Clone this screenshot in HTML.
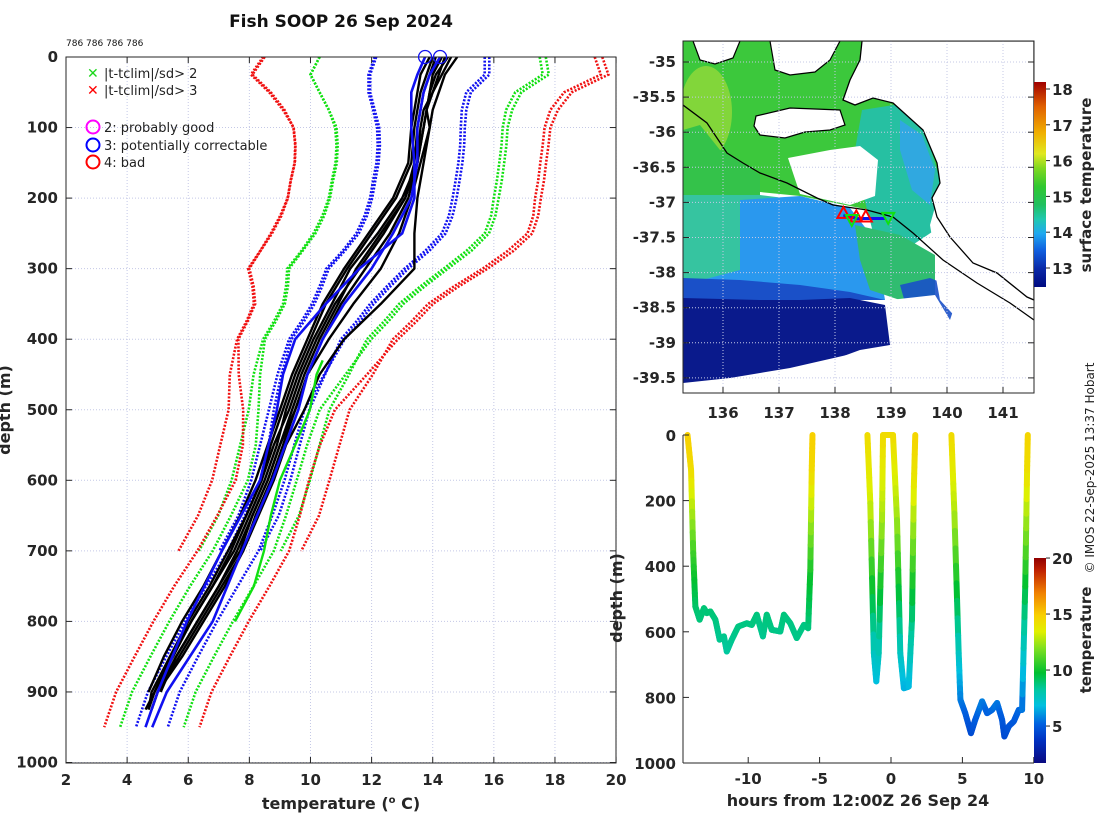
<!DOCTYPE html>
<html><head><meta charset="utf-8"><style>
html,body{margin:0;padding:0;background:#fff;}
svg{display:block;font-family:"DejaVu Sans","Liberation Sans",sans-serif;}
.tk{font-size:15px;font-weight:bold;fill:#262626;}
</style></head><body>
<svg id="chart" width="1100" height="820" viewBox="0 0 1100 820" xmlns="http://www.w3.org/2000/svg">
<defs>
<clipPath id="mapclip"><rect x="683" y="41" width="351" height="352"/></clipPath>
<clipPath id="leftclip"><rect x="66" y="57" width="550" height="706"/></clipPath>
<linearGradient id="sstbar" x1="0" y1="1" x2="0" y2="0">
<stop offset="0" stop-color="#000a80"/><stop offset="0.09" stop-color="#0a2aa8"/><stop offset="0.18" stop-color="#1060e0"/>
<stop offset="0.26" stop-color="#20a8f0"/><stop offset="0.33" stop-color="#20c8b0"/><stop offset="0.40" stop-color="#20c060"/>
<stop offset="0.49" stop-color="#30c830"/><stop offset="0.58" stop-color="#80d820"/><stop offset="0.65" stop-color="#e0e820"/>
<stop offset="0.75" stop-color="#f0b000"/><stop offset="0.88" stop-color="#e06000"/><stop offset="1" stop-color="#a00000"/>
</linearGradient>
<linearGradient id="tbar" x1="0" y1="1" x2="0" y2="0">
<stop offset="0" stop-color="#0a0a80"/><stop offset="0.11" stop-color="#0030c0"/><stop offset="0.19" stop-color="#0060e0"/>
<stop offset="0.28" stop-color="#00c0e0"/><stop offset="0.36" stop-color="#00c8a0"/><stop offset="0.44" stop-color="#00c030"/>
<stop offset="0.56" stop-color="#80e020"/><stop offset="0.64" stop-color="#e0f000"/><stop offset="0.72" stop-color="#f8d000"/>
<stop offset="0.83" stop-color="#f08000"/><stop offset="0.94" stop-color="#c02000"/><stop offset="1" stop-color="#900000"/>
</linearGradient>
</defs>

<text x="341" y="27" text-anchor="middle" style="font-size:17px;font-weight:bold;fill:#111">Fish SOOP 26 Sep 2024</text>
<text x="66" y="46" style="font-size:9px;fill:#111">786 786 786 786</text>

<g id="leftgrid"></g>
<g id="leftplot" clip-path="url(#leftclip)"></g>
<rect x="66" y="57" width="550" height="706" fill="none" stroke="#262626" stroke-width="1"/>
<g id="leftticks"></g>
<text x="341" y="809" text-anchor="middle" style="font-size:16px;font-weight:bold;fill:#262626">temperature (<tspan dy="-6" style="font-size:10px">o</tspan><tspan dy="6"> C)</tspan></text>
<text transform="translate(10,410) rotate(-90)" text-anchor="middle" style="font-size:16px;font-weight:bold;fill:#262626">depth (m)</text>

<g>
<text x="87" y="78" style="font-size:14px;fill:#1cd81c;font-weight:bold">✕</text>
<text x="104" y="78" style="font-size:13px;fill:#222">|t-tclim|/sd&gt; 2</text>
<text x="87" y="95" style="font-size:14px;fill:#f00;font-weight:bold">✕</text>
<text x="104" y="95" style="font-size:13px;fill:#222">|t-tclim|/sd&gt; 3</text>
<circle cx="93" cy="127" r="6.5" fill="none" stroke="#f0f" stroke-width="2"/>
<text x="104" y="132" style="font-size:13px;fill:#222">2: probably good</text>
<circle cx="93" cy="145" r="6.5" fill="none" stroke="#00f" stroke-width="2"/>
<text x="104" y="150" style="font-size:13px;fill:#222">3: potentially correctable</text>
<circle cx="93" cy="162" r="6.5" fill="none" stroke="#f00" stroke-width="2"/>
<text x="104" y="167" style="font-size:13px;fill:#222">4: bad</text>
</g>

<!-- MAP -->
<g clip-path="url(#mapclip)">
<rect x="683" y="41" width="351" height="352" fill="#fff"/>
<polygon points="683,41 1034,41 1034,260 940,232 900,216 850,206 800,196 760,192 683,192" fill="#3cc83c"/>
<ellipse cx="706" cy="112" rx="26" ry="46" fill="#8ed83a" opacity="0.85"/>
<polygon points="683,130 700,125 720,150 745,165 760,175 760,200 683,200" fill="#34c24a"/>
<polygon points="862,110 900,104 925,130 940,180 935,230 905,250 875,240 862,190 855,150" fill="#26c0a2"/>
<polygon points="900,120 922,135 935,170 930,205 912,190 900,150" fill="#30a8e0"/>
<polygon points="683,195 760,195 800,200 800,300 683,300" fill="#36c4a0"/>
<polygon points="740,200 800,196 850,208 875,240 885,300 683,300 683,285 740,270" fill="#2a98ee"/>
<polygon points="855,225 900,235 935,255 935,295 900,300 870,290 860,260" fill="#30bc70"/>
<polygon points="683,278 740,280 800,285 850,292 885,300 683,300" fill="#1a50c8"/>
<polygon points="683,298 760,300 800,300 850,298 885,305 890,345 860,350 800,372 730,382 683,386" fill="#0a1a8c"/>
<polygon points="900,285 930,278 960,290 950,320 910,320" fill="#1a50c8" opacity="0.9"/>
<polygon points="683,383 730,378 790,368 860,352 892,345 1034,330 1034,393 683,393" fill="#fff"/>
<polygon points="788,158 830,150 860,146 878,160 875,196 850,205 800,194" fill="#fff"/>
<polygon points="940,183 1034,300 1034,332 960,322 940,300 936,278 935,255 930,225 937,200" fill="#fff"/>
<polygon points="890,300 935,295 950,320 1034,330 1034,340 890,345" fill="#fff"/>
<polygon points="693,41 740,41 733,58 715,64 700,60" fill="#fff" stroke="#000" stroke-width="1.2"/>
<polygon points="770,41 840,41 830,60 815,72 790,75 775,70" fill="#fff" stroke="#000" stroke-width="1.2"/>
<polygon points="756,116 790,108 840,110 845,125 830,130 805,132 785,138 760,135 754,126" fill="#fff" stroke="#000" stroke-width="1.2"/>
<polygon points="862,41 860,60 850,80 843,100 855,105 873,98 893,103 923,130 937,163 940,183 932,198 937,217 950,237 973,263 997,273 1027,297 1034,300 1034,41" fill="#fff" stroke="#000" stroke-width="1.3"/>
<polyline points="683,105 707,123 727,153 743,163 760,173 787,183 817,198 833,205 867,210 893,217 913,233 943,260 977,283 1010,303 1034,320" fill="none" stroke="#000" stroke-width="1.3"/>
</g>
<g id="mapgrid"></g>
<g id="track"></g>
<rect x="683" y="41" width="351" height="352" fill="none" stroke="#262626"/>
<g id="mapticks"></g>
<rect x="1034" y="82" width="12" height="205" fill="url(#sstbar)"/>
<g id="sstticks"></g>
<text transform="translate(1091,185) rotate(-90)" text-anchor="middle" style="font-size:15px;font-weight:bold;fill:#262626">surface temperature</text>
<text transform="translate(1094,468) rotate(-90)" text-anchor="middle" style="font-size:12px;fill:#222">© IMOS 22-Sep-2025 13:37 Hobart</text>

<!-- BOTTOM -->
<g id="botplot"></g>
<line x1="683" y1="435" x2="683" y2="763" stroke="#262626"/>
<line x1="683" y1="763" x2="1034" y2="763" stroke="#262626"/>
<g id="botticks"></g>
<rect x="1034" y="558" width="12" height="205" fill="url(#tbar)"/>
<g id="tticks"></g>
<text transform="translate(1091,640) rotate(-90)" text-anchor="middle" style="font-size:15px;font-weight:bold;fill:#262626">temperature</text>
<text transform="translate(622,598) rotate(-90)" text-anchor="middle" style="font-size:16px;font-weight:bold;fill:#262626">depth (m)</text>
<text x="858" y="806" text-anchor="middle" style="font-size:16px;font-weight:bold;fill:#262626">hours from 12:00Z 26 Sep 24</text>
</svg>
<script>
// ---------- left plot data ----------
const xTicks = [2,4,6,8,10,12,14,16,18,20];
const yTicks = [0,100,200,300,400,500,600,700,800,900,1000];
const depthsA = [0,25,50,75,100,125,150,175,200,225,250,275,300,325,350,375,400,450,500,550,600,650,700];
const meanA = [13.9,13.8,13.5,13.5,13.55,13.55,13.5,13.4,13.3,13.15,12.9,12.4,11.8,11.4,11.0,10.6,10.15,9.7,9.3,9.0,8.7,8.3,7.69];
const sdA = [1.8,1.9,1.6,1.45,1.37,1.35,1.34,1.35,1.35,1.38,1.4,1.35,1.28,1.1,0.95,0.9,0.85,0.78,0.66,0.65,0.64,0.66,0.67];
const depthsB = [0,25,50,75,100,125,150,175,200,225,250,275,300,325,350,375,400,450,500,550,600,650,700,750,800,850,900,950];
const meanB = [14.0,13.9,13.6,13.6,13.65,13.65,13.6,13.5,13.4,13.25,13.0,12.5,11.9,11.5,11.1,10.7,10.25,9.75,9.3,9.05,8.75,8.3,7.8,7.1,6.42,5.8,5.2,4.81];
const sdB = [1.85,1.95,1.65,1.5,1.4,1.38,1.37,1.38,1.38,1.4,1.42,1.38,1.3,1.12,0.97,0.92,0.87,0.7,0.5,0.42,0.4,0.45,0.5,0.52,0.52,0.52,0.52,0.52];
const sdMultipliers = [1,2,3];
const blackDepths = [0,25,50,75,100,150,200,250,300,350,400,450,500,550,600,650,700,750,800,850,900,925];
const black1 = [14.3,14.0,13.9,13.8,13.7,13.5,13.0,12.2,11.3,10.7,10.1,9.6,9.2,8.9,8.5,8.0,7.5,6.8,6.1,5.5,4.9,4.7];
const black2 = [14.0,13.8,13.6,13.5,13.4,13.3,12.8,12.0,11.2,10.5,10.0,9.5,9.1,8.7,8.4,7.9,7.3,6.7,6.0,5.4,4.8,4.7];
const black3 = [14.6,14.3,14.0,13.8,13.9,13.6,13.3,12.9,12.3,11.4,10.6,9.9,9.5,9.0,8.6,8.1,7.7,7.0,6.3,5.6,5.0];
const black4 = [14.8,14.4,14.2,14.0,13.9,13.7,13.5,13.4,13.4,12.3,11.1,10.3,9.8,9.2,8.8,8.3,7.8,7.1,6.4,5.7,5.0,4.8];
const black5 = [14.1,13.9,13.7,13.6,13.5,13.4,13.1,12.3,11.5,10.9,10.3,9.8,9.4,9.0,8.6,8.1,7.6,7.0,6.3,5.6,5.1];
const black6 = [14.5,14.1,13.9,13.8,13.7,13.5,13.2,12.6,11.8,11.0,10.4,9.9,9.5,9.1,8.7,8.2,7.8,7.2,6.5,5.8,5.0,4.8];
const black7 = [13.9,13.6,13.5,13.4,13.3,13.2,12.7,11.9,11.1,10.4,9.9,9.4,9.0,8.6,8.2,7.7,7.1,6.5,5.8,5.2,4.7];
const black8 = [14.4,14.2,14.0,13.7,13.6,13.5,13.1,12.4,11.6,10.8,10.2,9.7,9.3,8.8,8.4,7.9,7.4,6.8,6.1,5.4,4.9,4.6];
const blueDepths = [0,25,50,75,100,150,200,250,300,350,400,450,500,600,700,800,900,950];
const blue1 = [13.75,13.5,13.3,13.3,13.3,13.4,13.4,13.0,11.6,10.5,9.5,9.1,8.9,8.35,7.1,5.96,5.0,4.6];
const blue2 = [14.24,13.9,13.7,13.6,13.5,13.5,13.3,12.7,12.0,11.1,10.4,9.9,9.6,8.75,7.76,6.8,5.3,4.82];
const greenDepths = [430,450,500,550,600,650,700,750,800];
const greenTemps = [10.4,10.2,9.98,9.5,9.0,8.7,8.48,8.15,7.53];

// ---------- map data ----------
const lonTicks = [136,137,138,139,140,141];
const latTicks = [-35,-35.5,-36,-36.5,-37,-37.5,-38,-38.5,-39,-39.5];
const trackLon = [138.15,138.4,138.6,138.9];
const trackLat = [-37.18,-37.23,-37.23,-37.23];
const upLon = [138.15,138.38,138.55];
const upLat = [-37.15,-37.2,-37.2];
const downLon = [138.3,138.95];
const downLat = [-37.25,-37.22];
const sstTicks = [13,14,15,16,17,18];

// ---------- bottom plot data ----------
const hourTicks = [-10,-5,0,5,10];
const depthTicks = [0,200,400,600,800,1000];
const tempTicks = [5,10,15,20];
const hours1 = [-14.25,-14.0,-13.85,-13.7,-13.4,-13.1,-12.9,-12.65,-12.3,-12.0,-11.7,-11.5,-11.15,-10.7,-10.1,-9.75,-9.4,-8.97,-8.7,-8.35,-7.75,-7.5,-7.05,-6.6,-6.1,-5.8,-5.65,-5.55,-5.5];
const depth1 = [0,107,360,523,563,528,543,538,563,624,614,660,624,584,574,579,548,614,548,594,599,548,574,619,579,589,411,107,0];
const temp1 = [15,14.5,11,9.3,9.0,9.1,9.0,9.1,9.0,8.7,8.8,8.5,8.7,8.9,8.9,8.9,9.0,8.7,9.0,8.9,8.8,9.0,8.9,8.8,8.9,8.9,10.3,14.5,15];
const hours2 = [-1.65,-1.45,-1.2,-1.03,-0.86,-0.63,-0.56,0.14,0.42,0.65,0.9,1.24,1.47,1.6,1.7];
const depth2 = [0,208,665,751,665,259,0,0,259,665,772,767,563,157,0];
const temp2 = [14.5,13.3,7.8,7.0,7.8,12.5,14.5,14.5,12.5,7.8,6.8,6.8,8.9,13.8,14.8];
const hours3 = [4.23,4.44,4.74,4.86,5.2,5.6,5.9,6.38,6.73,7.08,7.43,7.78,7.94,8.25,8.6,8.95,9.18,9.4,9.53,9.58];
const depth3 = [0,239,665,807,848,909,868,812,848,838,817,868,919,888,873,838,838,462,107,0];
const temp3 = [14.6,12.8,7.8,6.0,5.5,4.8,5.3,6.0,5.5,5.6,5.9,5.3,4.8,5.1,5.2,5.6,5.6,9.8,14.3,14.8];

// ---------- scales ----------
const NS='http://www.w3.org/2000/svg';
function tx(t){return 66+(t-2)*30.56;}
function dy(d){return 57+d*0.7055;}
function lx(lon){return 723+(lon-136)*56;}
function ly(lat){return 62+(-35-lat)/0.5*35.1;}
function hx(h){return 891+h*14.28;}
function by(d){return 435+d*0.328;}
function sy(t){return 268-(t-13)*35.8;}
function cy(t){return 763-(t-1.7)*11.2;}
function mk(tag,attrs,parent){const e=document.createElementNS(NS,tag);for(const k in attrs)e.setAttribute(k,attrs[k]);parent.appendChild(e);return e;}
function pts(ts,ds){return ts.map((t,i)=>tx(t).toFixed(1)+','+dy(ds[i]).toFixed(1)).join(' ');}

const lg=document.getElementById('leftgrid');
const lp=document.getElementById('leftplot');
const lt=document.getElementById('leftticks');
xTicks.forEach(t=>{
  const g=mk('line',{x1:tx(t),x2:tx(t),y1:57,y2:763,stroke:'#c4c8e6','stroke-dasharray':'1,2'},lg);
  
  
  mk('line',{x1:tx(t),x2:tx(t),y1:763,y2:757,stroke:'#262626'},lt);
  mk('line',{x1:tx(t),x2:tx(t),y1:57,y2:63,stroke:'#262626'},lt);
  const l=mk('text',{x:tx(t),y:785,'text-anchor':'middle',class:'tk'},lt);
  l.textContent=t;
  
  
});
yTicks.forEach(d=>{
  const g=mk('line',{x1:66,x2:616,y1:dy(d),y2:dy(d),stroke:'#c4c8e6','stroke-dasharray':'1,2'},lg);
  
  
  mk('line',{x1:66,x2:72,y1:dy(d),y2:dy(d),stroke:'#262626'},lt);
  mk('line',{x1:610,x2:616,y1:dy(d),y2:dy(d),stroke:'#262626'},lt);
  const l=mk('text',{x:58,y:dy(d)+5,'text-anchor':'end',class:'tk'},lt);
  l.textContent=d;
  
  
});
const envColors={1:'#1010f0',2:'#10e010',3:'#f01010'};
[[depthsA,meanA,sdA,'a'],[depthsB,meanB,sdB,'b']].forEach(([ds,m,s,tag])=>{
  sdMultipliers.forEach(k=>{
    [-1,1].forEach(sg=>{
      const ts=m.map((v,i)=>v+sg*k*s[i]);
      const p=mk('polyline',{points:pts(ts,ds),fill:'none',stroke:envColors[k],'stroke-width':2.6,'stroke-dasharray':'2,1.6'},lp);
      
      
    });
  });
});
[black1,black2,black3,black4,black5,black6,black7,black8].forEach((b,i)=>{
  const p=mk('polyline',{points:pts(b,blackDepths.slice(0,b.length)),fill:'none',stroke:'#000','stroke-width':2.4,'stroke-linejoin':'round'},lp);
  
  
});
const gl=mk('polyline',{points:pts(greenTemps,greenDepths),fill:'none',stroke:'#10e010','stroke-width':2.4},lp);


[blue1,blue2].forEach((b,i)=>{
  const p=mk('polyline',{points:pts(b,blueDepths),fill:'none',stroke:'#1010f0','stroke-width':2.6},lp);
  
  
  const c=mk('circle',{cx:tx(b[0]),cy:dy(0),r:6.5,fill:'none',stroke:'#1010f0','stroke-width':1.3},document.getElementById('chart'));
  
  
});

// map
const mg=document.getElementById('mapgrid');
const mt=document.getElementById('mapticks');
lonTicks.forEach(v=>{
  const g=mk('line',{x1:lx(v),x2:lx(v),y1:41,y2:393,stroke:'#c4c8e6','stroke-dasharray':'1,2'},mg);
  
  
  mk('line',{x1:lx(v),x2:lx(v),y1:393,y2:387,stroke:'#262626'},mt);
  const l=mk('text',{x:lx(v),y:418,'text-anchor':'middle',class:'tk'},mt);
  l.textContent=v;
  
  
});
latTicks.forEach(v=>{
  const g=mk('line',{x1:683,x2:1034,y1:ly(v),y2:ly(v),stroke:'#c4c8e6','stroke-dasharray':'1,2'},mg);
  
  
  mk('line',{x1:683,x2:689,y1:ly(v),y2:ly(v),stroke:'#262626'},mt);
  mk('line',{x1:1028,x2:1034,y1:ly(v),y2:ly(v),stroke:'#262626'},mt);
  const l=mk('text',{x:676,y:ly(v)+5,'text-anchor':'end',class:'tk'},mt);
  l.textContent=v;
  
  
});
const tr=document.getElementById('track');
const tl=mk('polyline',{points:trackLon.map((v,i)=>lx(v)+','+ly(trackLat[i])).join(' '),fill:'none',stroke:'#1010f0','stroke-width':3},tr);


upLon.forEach((v,i)=>{
  const x=lx(v),y=ly(upLat[i]);
  const t=mk('polygon',{points:`${x},${y-6} ${x-6},${y+5} ${x+6},${y+5}`,fill:'none',stroke:'#f00','stroke-width':2},tr);
  
  
});
downLon.forEach((v,i)=>{
  const x=lx(v),y=ly(downLat[i]);
  const t=mk('polygon',{points:`${x-6},${y-5} ${x+6},${y-5} ${x},${y+6}`,fill:'none',stroke:'#10e010','stroke-width':2},tr);
  
  
});
const st=document.getElementById('sstticks');
sstTicks.forEach(v=>{
  mk('line',{x1:1046,x2:1050,y1:sy(v),y2:sy(v),stroke:'#262626'},st);
  const l=mk('text',{x:1052,y:sy(v)+6,class:'tk'},st);
  l.textContent=v;
  
  
});

// bottom plot
const tStops=[[1.7,[10,10,128]],[4,[0,48,192]],[5.5,[0,96,224]],[7,[0,192,224]],[8.5,[0,200,160]],[10,[0,192,48]],[12,[128,224,32]],[13.5,[224,240,0]],[15,[248,208,0]],[17,[240,128,0]],[19,[192,32,0]],[20,[144,0,0]]];
function tcol(t){
  for(let i=0;i<tStops.length-1;i++){const a=tStops[i],b=tStops[i+1];
    if(t<=b[0]){const f=Math.max(0,(t-a[0])/(b[0]-a[0]));return 'rgb('+a[1].map((c,j)=>Math.round(c+(b[1][j]-c)*f)).join(',')+')';}}
  return 'rgb(144,0,0)';
}
const bp=document.getElementById('botplot');
[[hours1,depth1,temp1],[hours2,depth2,temp2],[hours3,depth3,temp3]].forEach(([hs,ds,ts],si)=>{
  const g=mk('g',{},bp);
  
  
  for(let i=0;i<hs.length-1;i++){
    const n=8;
    for(let k=0;k<n;k++){
      const f0=k/n,f1=(k+1)/n;
      const h0=hs[i]+(hs[i+1]-hs[i])*f0,h1=hs[i]+(hs[i+1]-hs[i])*f1;
      const d0=ds[i]+(ds[i+1]-ds[i])*f0,d1=ds[i]+(ds[i+1]-ds[i])*f1;
      const tm=ts[i]+(ts[i+1]-ts[i])*(f0+f1)/2;
      mk('line',{x1:hx(h0),y1:by(d0),x2:hx(h1),y2:by(d1),stroke:tcol(tm),'stroke-width':6,'stroke-linecap':'round'},g);
    }
  }
});
const bt=document.getElementById('botticks');
hourTicks.forEach(v=>{
  mk('line',{x1:hx(v),x2:hx(v),y1:763,y2:757,stroke:'#262626'},bt);
  const l=mk('text',{x:hx(v),y:784,'text-anchor':'middle',class:'tk'},bt);
  l.textContent=v;
  
  
});
depthTicks.forEach(v=>{
  mk('line',{x1:683,x2:689,y1:by(v),y2:by(v),stroke:'#262626'},bt);
  const l=mk('text',{x:676,y:by(v)+6,'text-anchor':'end',class:'tk'},bt);
  l.textContent=v;
  
  
});
const tt=document.getElementById('tticks');
tempTicks.forEach(v=>{
  mk('line',{x1:1046,x2:1050,y1:cy(v),y2:cy(v),stroke:'#262626'},tt);
  const l=mk('text',{x:1052,y:cy(v)+6,class:'tk'},tt);
  l.textContent=v;
  
  
});
</script>
</body></html>
